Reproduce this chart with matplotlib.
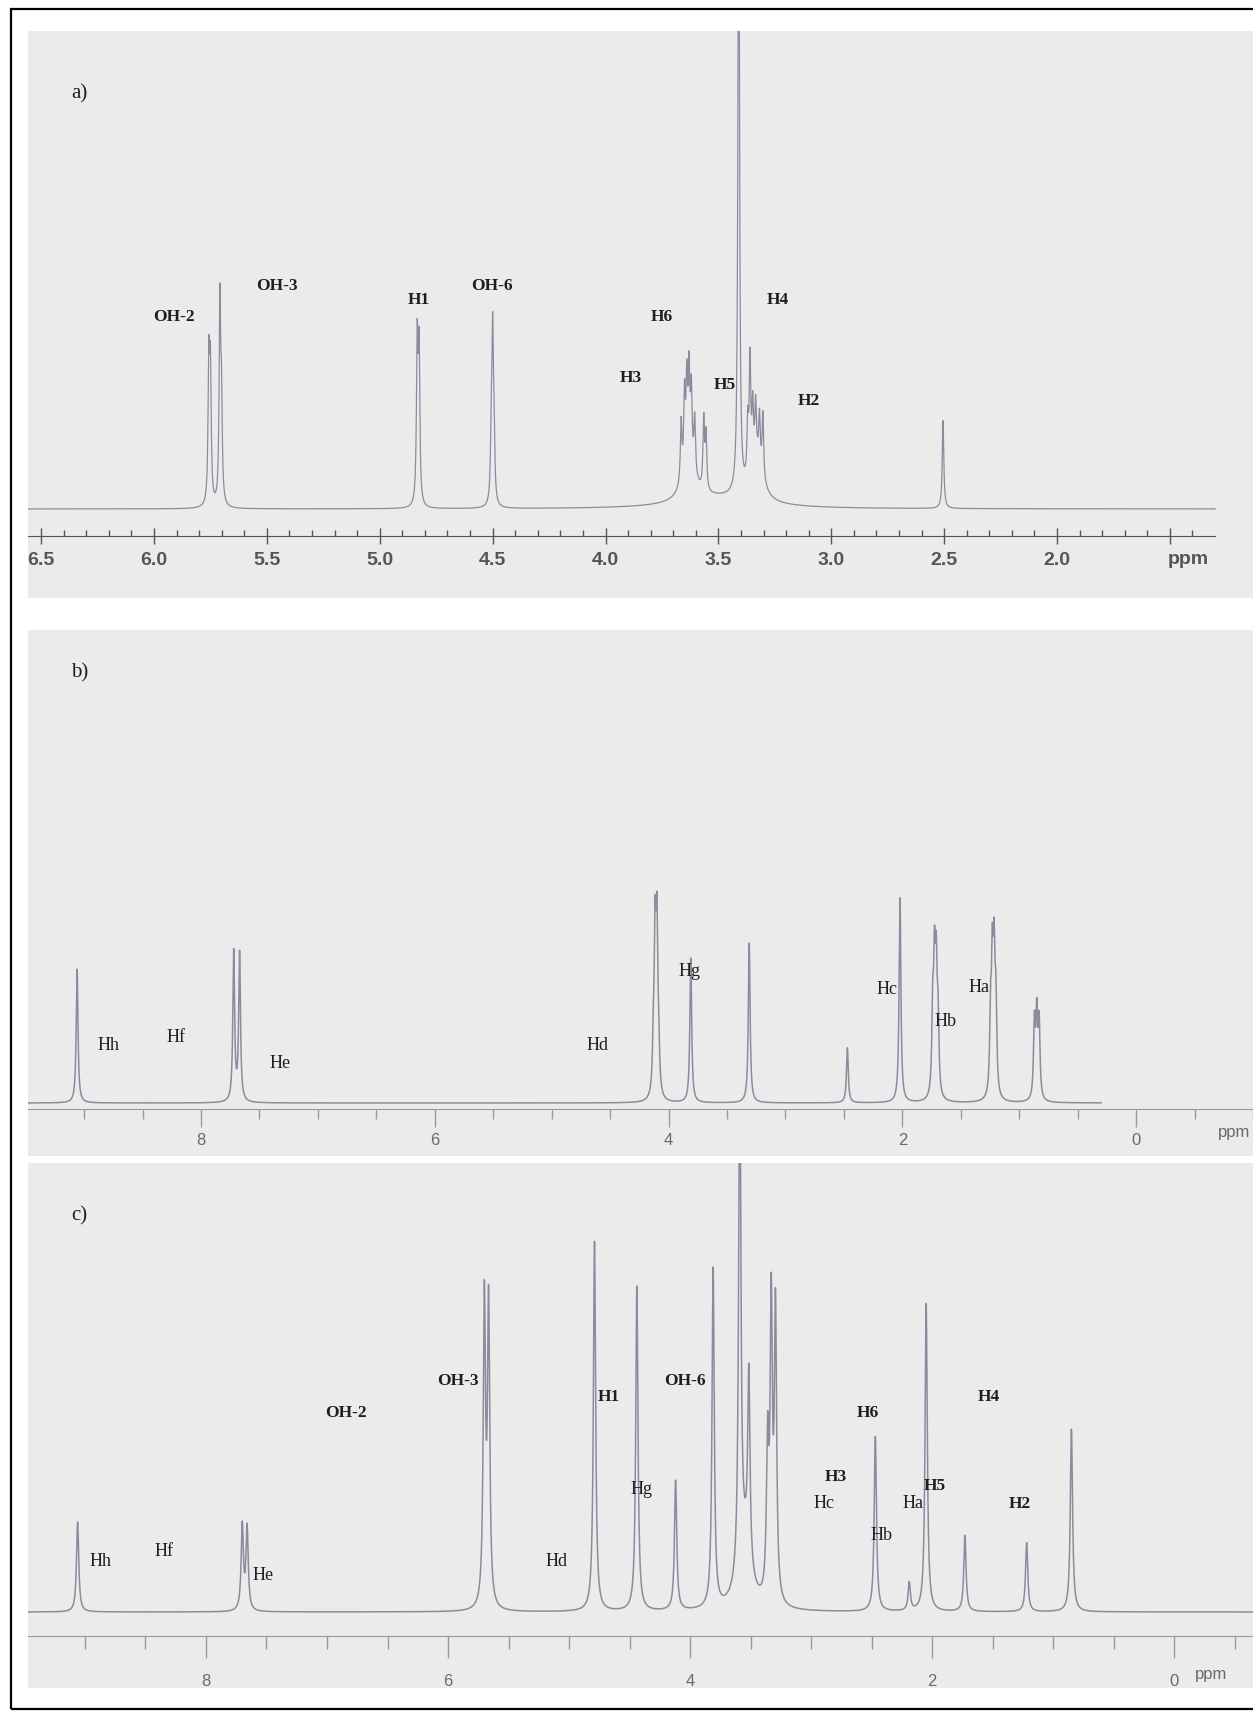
import numpy as np
import matplotlib
matplotlib.use("Agg")
import matplotlib.pyplot as plt
from matplotlib.patches import Rectangle

W, H = 1253, 1711

# ---- panel a) : beta-cyclodextrin ----
a_shift = [5.757, 5.750, 5.708, 5.701, 4.834, 4.826, 4.506, 4.500, 4.494,
           3.665, 3.650, 3.640, 3.630, 3.620, 3.605, 3.565, 3.555,
           3.410, 3.370, 3.360, 3.348, 3.335, 3.318, 3.303, 2.505,
           3.630, 3.330, 3.500]
a_height = [140, 130, 200, 95, 160, 150, 60, 160, 60,
            60, 75, 80, 85, 70, 55, 70, 55,
            700, 55, 115, 60, 55, 50, 65, 88,
            40, 40, 10]
a_hwhm = [0.004] * 25 + [0.03, 0.03, 0.2]
a_labels = ["OH-2", "OH-3", "H1", "OH-6", "H6", "H4", "H3", "H5", "H2"]
a_lab_ppm = [5.91, 5.455, 4.826, 4.503, 3.75, 3.236, 3.89, 3.47, 3.10]
a_lab_y = [192, 223, 209, 223, 192, 209, 131, 124, 108]
a_major = [6.5, 6.0, 5.5, 5.0, 4.5, 4.0, 3.5, 3.0, 2.5, 2.0, 1.5]
a_ticklabels = ["6.5", "6.0", "5.5", "5.0", "4.5", "4.0", "3.5", "3.0", "2.5", "2.0", ""]

# ---- panel b) : guest molecule ----
b_shift = [9.06, 7.72, 7.67, 4.13, 4.115, 4.100, 4.085, 3.81, 3.31, 2.47, 2.02,
           1.74, 1.725, 1.71, 1.695, 1.245, 1.23, 1.215, 1.20, 0.87, 0.85, 0.83]
b_height = [134, 150, 148, 45, 150, 155, 45, 145, 160, 55, 205,
            80, 120, 115, 70, 75, 120, 125, 85, 75, 80, 75]
b_labels = ["Hh", "Hf", "He", "Hd", "Hg", "Hc", "Hb", "Ha"]
b_lab_ppm = [8.79, 8.21, 7.32, 4.61, 3.82, 2.13, 1.63, 1.34]
b_lab_y = [57, 65, 39, 57, 132, 114, 82, 115]

# ---- panel c) : inclusion complex ----
c_shift = [9.06, 7.70, 7.66, 5.70, 5.665, 4.79, 4.44, 4.12, 3.81, 3.59, 3.515,
           3.36, 3.33, 3.295, 2.47, 2.19, 2.05, 1.73, 1.22, 0.85, 3.55]
c_height = [90, 85, 83, 305, 300, 370, 325, 130, 340, 520, 190,
            150, 290, 290, 175, 28, 308, 76, 69, 183, 60]
c_hwhm = [0.011] * 20 + [0.06]
c_labels_serif = ["OH-3", "OH-2", "H1", "OH-6", "H6", "H4", "H3", "H5", "H2"]
c_serif_ppm = [5.92, 6.84, 4.67, 4.04, 2.53, 1.53, 2.80, 1.98, 1.28]
c_serif_y = [231, 199, 215, 231, 199, 215, 135, 126, 108]
c_labels_plain = ["Hg", "Hc", "Ha", "Hb", "Hh", "Hf", "He", "Hd"]
c_plain_ppm = [4.40, 2.89, 2.16, 2.42, 8.87, 8.35, 7.53, 5.10]
c_plain_y = [123, 108, 108, 76, 51, 60, 36, 51]

bc_major = [8, 6, 4, 2, 0]

panel_bg = "#ebebeb"
line_col = "#8e8a9e"
text_col = "#1e1e1e"
tick_col = "#6a6a6a"


def spectrum(x, shifts, heights, widths):
    y = np.zeros_like(x)
    for s, h, w in zip(shifts, heights, widths):
        y += h / (1 + ((x - s) / w) ** 2)
    return y


def make_axes(top, bottom, baseline):
    ax = fig.add_axes([28 / W, 1 - bottom / H, (W - 28) / W, (bottom - top) / H])
    ax.set_facecolor(panel_bg)
    ax.set_ylim(-(bottom - baseline), baseline - top)
    for s in ["top", "left", "right"]:
        ax.spines[s].set_visible(False)
    ax.set_yticks([])
    return ax


fig = plt.figure(figsize=(W / 100, H / 100), dpi=100)
fig.patches.append(Rectangle((11 / W, 2 / H), (W - 5) / W, (H - 11) / H,
                             transform=fig.transFigure, fill=False,
                             edgecolor="black", linewidth=1.6))

serif = {"family": "Liberation Serif", "weight": "bold", "size": 12.5}
plain = {"family": "Liberation Serif", "size": 13}

# panel a
ax = make_axes(31, 598, 509)
ax.set_xlim(6.558, 1.132)
x = np.linspace(6.558, 1.30, 6000)
ax.plot(x, spectrum(x, a_shift, a_height, a_hwhm), color=line_col, lw=0.9)
ax.spines["bottom"].set_position(("data", -27))
ax.spines["bottom"].set_bounds(1.30, 6.558)
ax.spines["bottom"].set_color("#555555")
ax.set_xticks(a_major)
ax.set_xticklabels(a_ticklabels, fontsize=14, fontweight="bold",
                   family="Liberation Sans", color="#555555")
ax.set_xticks(np.arange(1.4, 6.56, 0.1), minor=True)
ax.tick_params(axis="x", which="major", direction="inout", length=11, width=1,
               color="#555555", pad=6)
ax.tick_params(axis="x", which="minor", direction="in", length=4, width=1,
               color="#555555")
ax.text(1.42, -50, "ppm", fontsize=14, fontweight="bold", family="Liberation Sans",
        color="#555555", ha="center", va="center")
for t, px, py in zip(a_labels, a_lab_ppm, a_lab_y):
    ax.text(px, py, t, ha="center", va="center", color=text_col, **serif)
ax.text(0.042, 0.89, "a)", transform=ax.transAxes, fontsize=15,
        family="Liberation Serif", color=text_col, ha="center", va="center")

# panel b
ax = make_axes(630, 1156, 1103)
ax.set_xlim(9.48, -1.0)
x = np.linspace(9.48, 0.3, 8000)
ax.plot(x, spectrum(x, b_shift, b_height, [0.009] * len(b_shift)), color=line_col, lw=1.1)
ax.spines["bottom"].set_position(("data", -6))
ax.spines["bottom"].set_color("#9a9a9a")
ax.set_xticks(bc_major)
ax.set_xticklabels([str(v) for v in bc_major], fontsize=12,
                   family="Liberation Sans", color=tick_col)
ax.set_xticks(np.arange(-1.0, 9.5, 0.5), minor=True)
ax.tick_params(axis="x", which="major", direction="out", length=13, width=1,
               color="#9a9a9a", pad=4)
ax.tick_params(axis="x", which="minor", direction="out", length=7, width=1,
               color="#9a9a9a")
ax.text(-0.98, -30, "ppm", fontsize=12, family="Liberation Sans", color=tick_col,
        ha="right", va="center")
for t, px, py in zip(b_labels, b_lab_ppm, b_lab_y):
    ax.text(px, py, t, ha="center", va="center", color=text_col, **plain)
ax.text(0.042, 0.918, "b)", transform=ax.transAxes, fontsize=15,
        family="Liberation Serif", color=text_col, ha="center", va="center")

# panel c
ax = make_axes(1163, 1688, 1612)
ax.set_xlim(9.47, -0.65)
x = np.linspace(9.47, -0.65, 8000)
ax.plot(x, spectrum(x, c_shift, c_height, c_hwhm), color=line_col, lw=1.1)
ax.spines["bottom"].set_position(("data", -24))
ax.spines["bottom"].set_color("#9a9a9a")
ax.set_xticks(bc_major)
ax.set_xticklabels([str(v) for v in bc_major], fontsize=12,
                   family="Liberation Sans", color=tick_col)
ax.set_xticks(np.arange(-0.5, 9.5, 0.5), minor=True)
ax.tick_params(axis="x", which="major", direction="out", length=16, width=1,
               color="#9a9a9a", pad=11)
ax.tick_params(axis="x", which="minor", direction="out", length=9, width=1,
               color="#9a9a9a")
ax.text(-0.3, -62, "ppm", fontsize=12, family="Liberation Sans", color=tick_col,
        ha="center", va="center")
for t, px, py in zip(c_labels_serif, c_serif_ppm, c_serif_y):
    ax.text(px, py, t, ha="center", va="center", color=text_col, **serif)
for t, px, py in zip(c_labels_plain, c_plain_ppm, c_plain_y):
    ax.text(px, py, t, ha="center", va="center", color=text_col, **plain)
ax.text(0.042, 0.899, "c)", transform=ax.transAxes, fontsize=15,
        family="Liberation Serif", color=text_col, ha="center", va="center")

fig.savefig("out.png", dpi=100, facecolor="white")
